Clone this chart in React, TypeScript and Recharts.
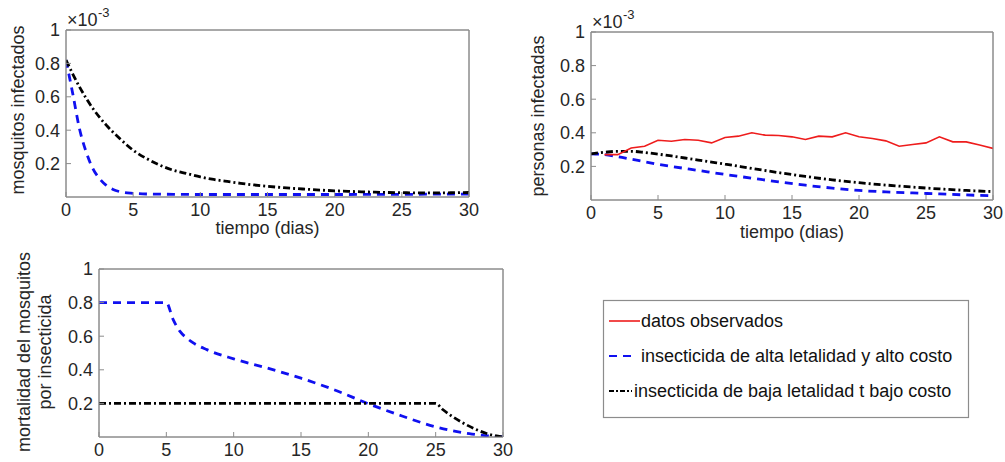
import React from 'react'
import { LineChart, Line, XAxis, YAxis, ReferenceArea } from 'recharts'

// eje x compartido (dias)
const xTicks = [0, 5, 10, 15, 20, 25, 30]
const yTicks = [0.2, 0.4, 0.6, 0.8, 1]

// mosquitos infectados (x 10^-3)
const mosqBajaDias = [0, 1, 2, 3, 4, 5, 6, 7, 8, 9, 10, 11, 12, 13, 14, 15, 16, 17, 18, 19, 20, 21, 22, 23, 24, 25, 26, 27, 28, 29, 30]
const mosqBaja = [0.82, 0.66, 0.53, 0.43, 0.35, 0.28, 0.23, 0.19, 0.16, 0.14, 0.12, 0.105, 0.093, 0.082, 0.072, 0.064, 0.057, 0.051, 0.046, 0.041, 0.037, 0.034, 0.031, 0.029, 0.027, 0.026, 0.025, 0.025, 0.025, 0.026, 0.027]
const mosqAltaDias = [0, 0.5, 1, 1.5, 2, 2.5, 3, 3.5, 4, 5, 6, 8, 10, 15, 20, 25, 30]
const mosqAlta = [0.82, 0.62, 0.41, 0.27, 0.17, 0.11, 0.07, 0.045, 0.032, 0.022, 0.018, 0.016, 0.015, 0.015, 0.015, 0.016, 0.018]

// personas infectadas (x 10^-3)
const persObsDias = [1, 2, 3, 4, 5, 6, 7, 8, 9, 10, 11, 12, 13, 14, 15, 16, 17, 18, 19, 20, 21, 22, 23, 24, 25, 26, 27, 28, 29, 30]
const persObs = [0.27, 0.27, 0.31, 0.32, 0.356, 0.35, 0.36, 0.356, 0.34, 0.372, 0.38, 0.4, 0.386, 0.384, 0.376, 0.36, 0.38, 0.376, 0.4, 0.376, 0.366, 0.352, 0.32, 0.33, 0.34, 0.376, 0.346, 0.346, 0.327, 0.307]
const persBajaDias = [0, 1, 2, 3, 4, 5, 6, 7, 8, 9, 10, 12, 14, 16, 18, 20, 22, 24, 26, 28, 30]
const persBaja = [0.275, 0.284, 0.29, 0.29, 0.283, 0.273, 0.262, 0.25, 0.238, 0.226, 0.214, 0.188, 0.163, 0.14, 0.12, 0.103, 0.089, 0.077, 0.066, 0.057, 0.05]
const persAltaDias = [0, 1, 2, 3, 4, 5, 6, 8, 10, 12, 14, 16, 18, 20, 22, 24, 26, 28, 30]
const persAlta = [0.275, 0.27, 0.258, 0.243, 0.228, 0.213, 0.2, 0.176, 0.152, 0.13, 0.108, 0.088, 0.071, 0.057, 0.048, 0.042, 0.036, 0.03, 0.025]

// mortalidad del mosquito por insecticida
const mortAltaDias = [0, 5, 5.5, 6, 6.5, 7, 8, 10, 12.5, 15, 17.5, 20, 22.5, 25, 27.5, 30]
const mortAlta = [0.8, 0.8, 0.7, 0.63, 0.59, 0.56, 0.52, 0.465, 0.41, 0.35, 0.28, 0.198, 0.125, 0.06, 0.02, 0]
const mortBajaDias = [0, 25, 25.5, 26, 27, 28, 29, 30]
const mortBaja = [0.2, 0.2, 0.165, 0.135, 0.085, 0.045, 0.015, 0]

const toData = (t: number[], v: number[]) => t.map((d, i) => ({ t: d, v: v[i] }))

const BOX = '#8c8c8c'
const TXT = '#262626'
const RED = '#ee1c1c'
const BLUE = '#1010f0'
const FS = 18
const DASH = '8 6'
const DASHDOT = '7 3 2 3'

type Serie = { data: { t: number; v: number }[]; color: string; width: number; dash?: string; curve: 'linear' | 'monotone' }

interface PanelProps {
  left: number
  top: number
  width: number
  height: number
  margin: { top: number; right: number; bottom: number; left: number }
  xHeight: number
  xLabel?: string
  labelOffset?: number
  series: Serie[]
}

function Panel({ left, top, width, height, margin, xHeight, xLabel, labelOffset, series }: PanelProps) {
  return (
    <div style={{ position: 'absolute', left, top }}>
      <LineChart width={width} height={height} margin={margin}>
        <XAxis
          dataKey="t"
          type="number"
          domain={[0, 30]}
          allowDataOverflow
          ticks={xTicks}
          interval={0}
          height={xHeight}
          stroke={BOX}
          tickSize={-5}
          tickMargin={11}
          tick={{ fill: TXT, fontSize: FS }}
          label={xLabel ? { value: xLabel, position: 'insideBottom', offset: labelOffset, fill: TXT, fontSize: FS } : undefined}
        />
        <XAxis xAxisId="top" orientation="top" dataKey="t" type="number" domain={[0, 30]} allowDataOverflow ticks={xTicks} interval={0} height={1} stroke={BOX} tickSize={-5} tick={false} />
        <YAxis
          type="number"
          domain={[0, 1]}
          allowDataOverflow
          ticks={yTicks}
          interval={0}
          width={60}
          stroke={BOX}
          tickSize={-5}
          tickMargin={11}
          tick={{ fill: TXT, fontSize: FS }}
        />
        <YAxis yAxisId="right" orientation="right" type="number" domain={[0, 1]} allowDataOverflow ticks={yTicks} interval={0} width={1} stroke={BOX} tickSize={-5} tick={false} />
        <ReferenceArea x1={0} x2={30} y1={0} y2={1} fill="none" stroke={BOX} strokeWidth={1} />
        {series.map((s, i) => (
          <Line
            key={i}
            data={s.data}
            dataKey="v"
            type={s.curve}
            stroke={s.color}
            strokeWidth={s.width}
            strokeDasharray={s.dash}
            dot={false}
            activeDot={false}
            isAnimationActive={false}
          />
        ))}
      </LineChart>
    </div>
  )
}

export default function App() {
  return (
    <div
      style={{
        position: 'absolute',
        left: 0,
        top: 0,
        width: 1005,
        height: 462,
        background: '#fff',
        fontFamily: '"Liberation Sans", Arial, sans-serif',
        overflow: 'hidden',
      }}
    >
      <Panel
        left={0}
        top={0}
        width={490}
        height={245}
        margin={{ top: 29, right: 20, bottom: 8, left: 6 }}
        xHeight={40}
        xLabel="tiempo (dias)"
        labelOffset={3}
        series={[
          { data: toData(mosqAltaDias, mosqAlta), color: BLUE, width: 2.8, dash: DASH, curve: 'monotone' },
          { data: toData(mosqBajaDias, mosqBaja), color: '#000', width: 2.8, dash: DASHDOT, curve: 'monotone' },
        ]}
      />
      <Panel
        left={520}
        top={0}
        width={485}
        height={245}
        margin={{ top: 31, right: 11, bottom: 5, left: 11 }}
        xHeight={40}
        xLabel="tiempo (dias)"
        labelOffset={2}
        series={[
          { data: toData(persAltaDias, persAlta), color: BLUE, width: 2.8, dash: DASH, curve: 'monotone' },
          { data: toData(persBajaDias, persBaja), color: '#000', width: 2.8, dash: DASHDOT, curve: 'monotone' },
          { data: toData(persObsDias, persObs), color: RED, width: 1.6, curve: 'linear' },
        ]}
      />
      <Panel
        left={0}
        top={250}
        width={520}
        height={212}
        margin={{ top: 18, right: 16, bottom: 0, left: 39 }}
        xHeight={25}
        series={[
          { data: toData(mortAltaDias, mortAlta), color: BLUE, width: 2.8, dash: DASH, curve: 'monotone' },
          { data: toData(mortBajaDias, mortBaja), color: '#000', width: 2.8, dash: DASHDOT, curve: 'monotone' },
        ]}
      />
      <svg width={1005} height={462} style={{ position: 'absolute', left: 0, top: 0, pointerEvents: 'none' }}>
        <g fill={TXT} fontSize={FS}>
          <text transform="translate(18,110) rotate(-90)" textAnchor="middle" dominantBaseline="central">mosquitos infectados</text>
          <text transform="translate(538,116) rotate(-90)" textAnchor="middle" dominantBaseline="central">personas infectadas</text>
          <text transform="translate(24,352) rotate(-90)" textAnchor="middle" dominantBaseline="central">mortalidad del mosquitos</text>
          <text transform="translate(45,352) rotate(-90)" textAnchor="middle" dominantBaseline="central">por insecticida</text>
          <text x={67} y={26} fontSize={18}>×10</text>
          <text x={98} y={17} fontSize={13}>-3</text>
          <text x={592} y={28} fontSize={18}>×10</text>
          <text x={623} y={19} fontSize={13}>-3</text>
        </g>
        <rect x={603.5} y={300.5} width={365} height={117} fill="#fff" stroke={BOX} strokeWidth={1.2} />
        <line x1={609} x2={640} y1={321} y2={321} stroke={RED} strokeWidth={1.6} />
        <line x1={609} x2={636} y1={356} y2={356} stroke={BLUE} strokeWidth={2.2} strokeDasharray={DASH} />
        <line x1={609} x2={632} y1={391} y2={391} stroke="#000" strokeWidth={2} strokeDasharray="5 2 2 2" />
        <g fill="#111" fontSize={FS}>
          <text x={641} y={327}>datos observados</text>
          <text x={641} y={362}>insecticida de alta letalidad y alto costo</text>
          <text x={634} y={397}>insecticida de baja letalidad t bajo costo</text>
        </g>
      </svg>
    </div>
  )
}
